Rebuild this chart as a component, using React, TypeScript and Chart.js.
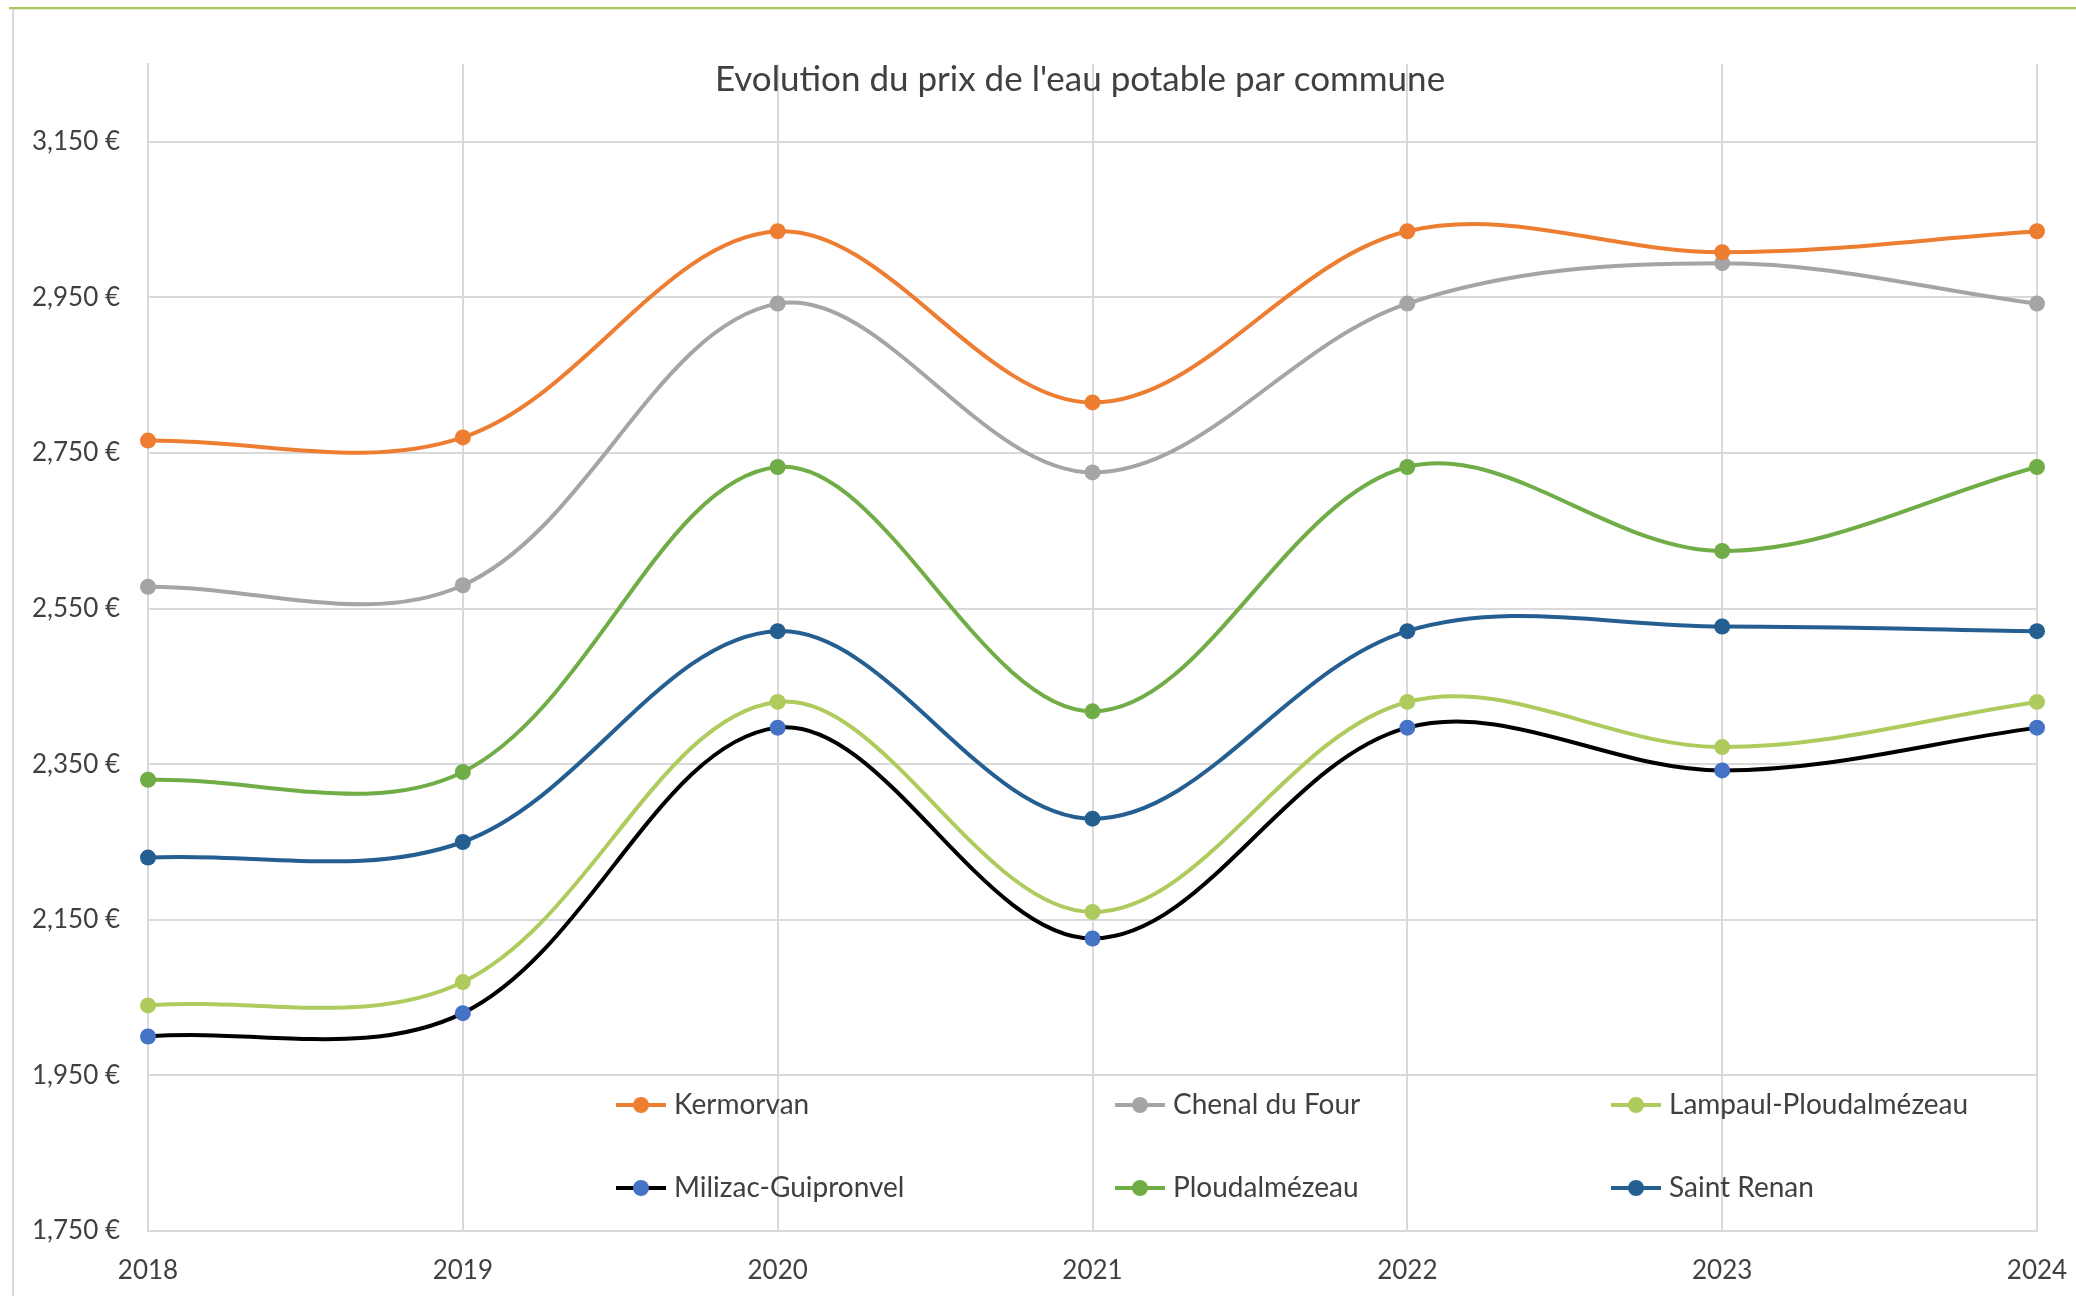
import React, { useEffect, useRef } from 'react';
import { Chart, registerables } from 'chart.js';

Chart.register(...registerables);

const chartTitle = "Evolution du prix de l'eau potable par commune";
const years = ['2018', '2019', '2020', '2021', '2022', '2023', '2024'];
const yTickValues = [1750, 1950, 2150, 2350, 2550, 2750, 2950, 3150];

const seriesNames = [
  'Kermorvan',
  'Chenal du Four',
  'Lampaul-Ploudalmézeau',
  'Milizac-Guipronvel',
  'Ploudalmézeau',
  'Saint Renan',
];

const kermorvan = [2766, 2770, 3035, 2815, 3035, 3008, 3035];
const chenalDuFour = [2578, 2580, 2942, 2725, 2942, 2994, 2942];
const lampaul = [2040, 2070, 2430, 2160, 2430, 2372, 2430];
const milizac = [2000, 2030, 2397, 2126, 2397, 2342, 2397];
const ploudalmezeau = [2330, 2340, 2732, 2418, 2732, 2624, 2732];
const saintRenan = [2230, 2250, 2521, 2280, 2521, 2527, 2521];

const seriesValues = [kermorvan, chenalDuFour, lampaul, milizac, ploudalmezeau, saintRenan];
const lineColors = ['#ED7D31', '#A5A5A5', '#AFCB5E', '#000000', '#70AD47', '#255E91'];
const markerColors = ['#ED7D31', '#A5A5A5', '#AFCB5E', '#4472C4', '#70AD47', '#255E91'];

const FONT = 'Lato, "Open Sans", sans-serif';
const TEXT_COLOR = '#404040';
const GRID_COLOR = '#D9D9D9';

const fmt = (v: number) => String(v).replace(/\B(?=(\d{3})+(?!\d))/g, ',') + ' €';

const titlePlugin = {
  id: 'customTitle',
  beforeDatasetsDraw(chart: any) {
    const ctx = chart.ctx;
    ctx.save();
    ctx.font = `35px ${FONT}`;
    ctx.fillStyle = TEXT_COLOR;
    ctx.textAlign = 'center';
    ctx.textBaseline = 'middle';
    ctx.fillText(chartTitle, 1080, 80);
    ctx.restore();
  },
};

const legendPlugin = {
  id: 'customLegend',
  afterDatasetsDraw(chart: any) {
    const ctx = chart.ctx;
    const colX = [616, 1115, 1611];
    const rowY = [1105, 1188];
    ctx.save();
    chart.data.datasets.forEach((ds: any, i: number) => {
      const x0 = colX[i % 3];
      const y = rowY[Math.floor(i / 3)];
      ctx.strokeStyle = ds.borderColor;
      ctx.lineWidth = 4;
      ctx.beginPath();
      ctx.moveTo(x0, y);
      ctx.lineTo(x0 + 50, y);
      ctx.stroke();
      ctx.fillStyle = ds.pointBackgroundColor;
      ctx.beginPath();
      ctx.arc(x0 + 25, y, 8, 0, Math.PI * 2);
      ctx.fill();
      ctx.fillStyle = TEXT_COLOR;
      ctx.font = `28px ${FONT}`;
      ctx.textAlign = 'left';
      ctx.textBaseline = 'middle';
      ctx.fillText(ds.label, x0 + 58, y);
    });
    ctx.restore();
  },
};

export default function App() {
  const canvasRef = useRef<HTMLCanvasElement>(null);

  useEffect(() => {
    const canvas = canvasRef.current;
    if (!canvas) return;
    const chart = new Chart(canvas, {
      type: 'line',
      data: {
        labels: years,
        datasets: seriesNames.map((name, i) => ({
          label: name,
          data: seriesValues[i],
          borderColor: lineColors[i],
          backgroundColor: markerColors[i],
          pointBackgroundColor: markerColors[i],
          pointBorderColor: markerColors[i],
          pointRadius: 8,
          pointBorderWidth: 0,
          borderWidth: 4,
          tension: 0.35,
          fill: false,
        })),
      },
      options: {
        responsive: false,
        animation: false,
        layout: { padding: { top: 64, right: 39, left: 0, bottom: 0 } },
        plugins: {
          legend: { display: false },
          title: { display: false },
          tooltip: { enabled: false },
        },
        scales: {
          x: {
            type: 'category',
            offset: false,
            grid: { color: GRID_COLOR, lineWidth: 2, drawTicks: false },
            border: { color: GRID_COLOR, width: 2 },
            ticks: {
              font: { family: FONT, size: 26 },
              color: TEXT_COLOR,
              padding: 24,
              maxRotation: 0,
              autoSkip: false,
            },
            afterFit: (s: any) => {
              s.height = 65;
              s.paddingLeft = 0;
              s.paddingRight = 0;
            },
          },
          y: {
            type: 'linear',
            min: 1750,
            max: 3250,
            afterBuildTicks: (s: any) => {
              s.ticks = yTickValues.map((v) => ({ value: v }));
            },
            grid: { color: GRID_COLOR, lineWidth: 2, drawTicks: false },
            border: { color: GRID_COLOR, width: 2 },
            ticks: {
              font: { family: FONT, size: 26 },
              color: TEXT_COLOR,
              padding: 28,
              callback: (v: any) => fmt(Number(v)),
            },
            afterFit: (s: any) => {
              s.width = 148;
              s.paddingTop = 0;
              s.paddingBottom = 0;
            },
          },
        },
      },
      plugins: [titlePlugin, legendPlugin],
    });
    return () => chart.destroy();
  }, []);

  return (
    <>
      <div style={{ position: 'absolute', left: 9, top: 7, width: 2067, height: 2, background: '#A9C95B' }} />
      <div style={{ position: 'absolute', left: 9, top: 9, width: 2067, height: 1, background: '#E4E4E4' }} />
      <div style={{ position: 'absolute', left: 12, top: 9, width: 2, height: 1287, background: '#D9D9D9' }} />
      <canvas
        ref={canvasRef}
        width={2076}
        height={1296}
        style={{ position: 'absolute', left: 0, top: 0, width: 2076, height: 1296 }}
      />
    </>
  );
}
